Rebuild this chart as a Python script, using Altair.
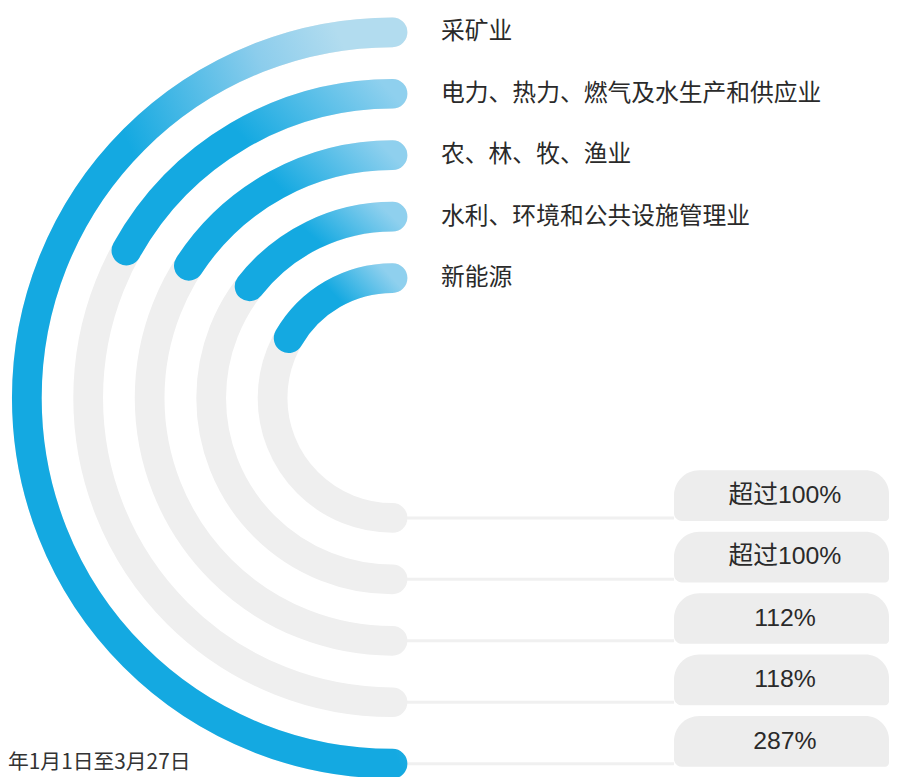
import altair as alt
import pandas as pd

# ---- data ----
categories = ["采矿业", "电力、热力、燃气及水生产和供应业", "农、林、牧、渔业",
              "水利、环境和公共设施管理业", "新能源"]
growth_labels = ["287%", "118%", "112%", "超过100%", "超过100%"]
sweep_deg = [180, 61, 57, 52, 60]   # angular length of the blue arc (degrees)
ring = [5, 4, 3, 2, 1]              # ring index, outermost = 5
note = ["年1月1日至3月27日"]

df = pd.DataFrame({"category": categories, "growth": growth_labels,
                   "sweep": sweep_deg, "ring": ring})
note_df = pd.DataFrame({"note": note})

CX, CY = 388, 390
BLUE = "#14a9e1"
GRAY = "#efefef"
FONT = "Noto Sans CJK SC"

r_scale = alt.Scale(type="linear", domain=[1, 5], range=[121, 369])
t_scale = alt.Scale(type="linear", domain=[0, 360], range=[0, 6.283185307179586])
top_scale = alt.Scale(type="linear", domain=[1, 5], range=[269, 21])
bot_scale = alt.Scale(type="linear", domain=[1, 5], range=[511, 759])

base = alt.Chart(df)

arc_enc = dict(
    theta=alt.Theta("t0:Q", scale=t_scale, stack=None),
    theta2="t1:Q",
    radius=alt.Radius("ring:Q", scale=r_scale),
    radius2="ring:Q",
    x=alt.value(CX),
    y=alt.value(CY),
)

track = base.transform_calculate(t0="180", t1="360").mark_arc(
    stroke=GRAY, strokeWidth=30, strokeJoin="round", fillOpacity=0
).encode(**arc_enc)

outer_grad = {"gradient": "linear", "x1": 0.85, "y1": 0, "x2": 0.45, "y2": 0.35,
              "stops": [{"offset": 0, "color": "#b2dcef"}, {"offset": 0.35, "color": "#8ccdec"},
                        {"offset": 1, "color": BLUE}]}
inner_grad = {"gradient": "linear", "x1": 1, "y1": 0, "x2": 0.45, "y2": 0.3,
              "stops": [{"offset": 0, "color": "#8fd0ee"}, {"offset": 1, "color": BLUE}]}

outer = base.transform_filter("datum.ring == 5").transform_calculate(
    t0="360 - datum.sweep", t1="360"
).mark_arc(stroke=outer_grad, strokeWidth=30, strokeJoin="round", fillOpacity=0).encode(**arc_enc)

inner = base.transform_filter("datum.ring < 5").transform_calculate(
    t0="360 - datum.sweep", t1="360"
).mark_arc(stroke=inner_grad, strokeWidth=30, strokeJoin="round", fillOpacity=0).encode(**arc_enc)

labels = base.mark_text(align="left", baseline="middle", font=FONT, fontSize=24,
                        color="#2a2a2a").encode(
    x=alt.value(437),
    y=alt.Y("ring:Q", scale=top_scale, axis=None),
    text="category:N",
)

lines = base.mark_rule(color="#f0f0f0", strokeWidth=3).encode(
    x=alt.value(390), x2=alt.value(672),
    y=alt.Y("ring:Q", scale=bot_scale, axis=None),
)

boxes = base.transform_calculate(btop="datum.ring - 0.775", bbot="datum.ring + 0.05").mark_rect(
    color="#ededed", cornerRadiusTopLeft=26, cornerRadiusBottomLeft=8,
    cornerRadiusTopRight=24, cornerRadiusBottomRight=4
).encode(
    x=alt.value(672), x2=alt.value(889),
    y=alt.Y("btop:Q", scale=bot_scale, axis=None),
    y2="bbot:Q",
)

pct = base.mark_text(align="center", baseline="middle", font="Liberation Sans, " + FONT,
                     fontSize=25, color="#2a2a2a", dy=-23).encode(
    x=alt.value(784),
    y=alt.Y("ring:Q", scale=bot_scale, axis=None),
    text="growth:N",
)

note_text = alt.Chart(note_df).mark_text(align="left", baseline="middle", font=FONT,
                                         fontSize=21, color="#333333").encode(
    x=alt.value(0), y=alt.value(758), text="note:N"
)

chart = alt.layer(lines, track, outer, inner, boxes, labels, pct, note_text).resolve_scale(
    y="independent"
).properties(
    width=890, height=780, padding=0, autosize="none", background="white"
).configure_view(stroke=None)

chart.save("out.html", embed_options={"renderer": "svg", "actions": False})
